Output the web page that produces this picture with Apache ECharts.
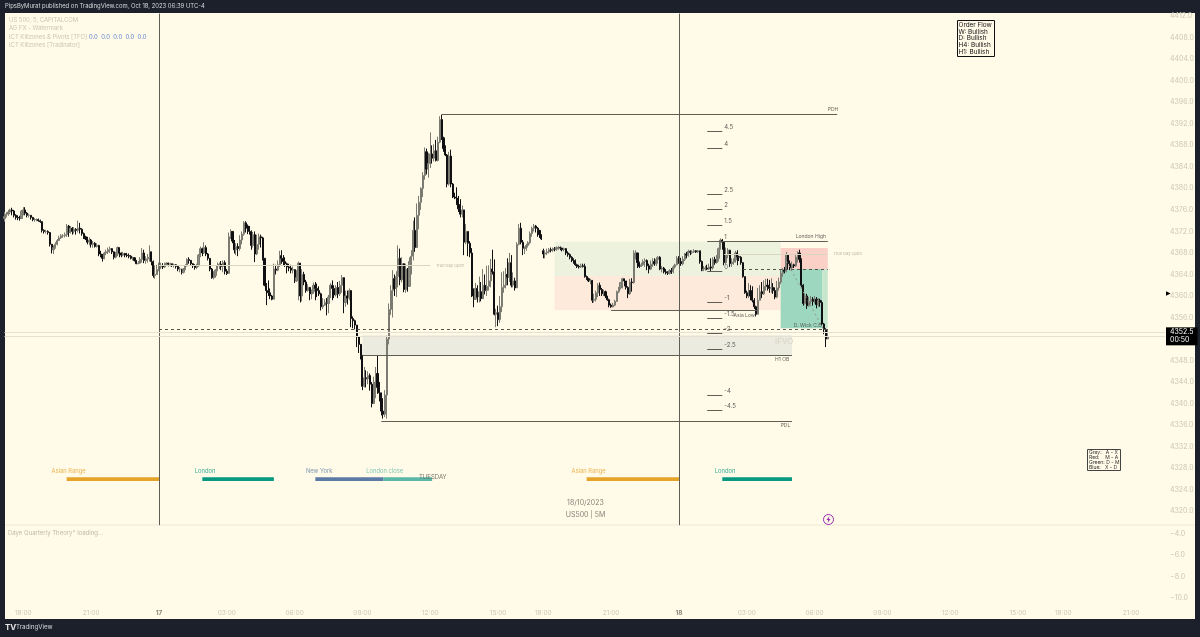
<!DOCTYPE html>
<html>
<head>
<meta charset="utf-8">
<title>US500 5M</title>
<script src="https://cdn.jsdelivr.net/npm/echarts@6/dist/echarts.min.js"></script>
<style>
html, body { margin: 0; padding: 0; background: #1c202b; }
#chart { width: 1200px; height: 637px; }
</style>
</head>
<body>
<div id="chart"></div>
<script>
// bars, one row per 5 minute bar: [close, low, high]
// open is the close of the bar before, a 4th value overrides it
var barsEve16 = [
[4374.8,4373.8,4375.6,4374.4],[4375.2,4374.6,4375.6],[4375.6,4374.9,4376],[4376,4375.2,4376.2],[4375.8,4375,4376.4],[4375,4374.6,4376],
[4374.6,4374.2,4375.2],[4374.5,4374.1,4375],[4374.4,4374,4374.9],[4375.8,4374.4,4376],[4376,4375,4376.5],[4375.4,4375,4376.5],
[4375,4374.6,4375.6],[4375,4374.6,4375.3],[4374.6,4374.2,4375],[4374.2,4373.9,4374.7],[4374.2,4373.8,4374.5],[4374.2,4373.9,4374.4],
[4374,4373.8,4374.4],[4373.8,4373.6,4374.2],[4372.2,4371.8,4373.9],[4372,4371.6,4372.4],[4372,4371.6,4372.3],[4371.8,4371.4,4372.2],
[4369.6,4369.2,4371.9],[4368.6,4367.9,4369.7],[4369,4367.8,4369.4],[4369.6,4368.8,4370],[4370.3,4369.4,4370.6],[4370.8,4370.2,4371.2],
[4371.2,4370.6,4371.5],[4371.2,4370.8,4371.5],[4371.4,4370.9,4371.8],[4373,4371,4373.4],[4371.8,4371,4373.2],[4372.6,4371.6,4373],
[4372,4371.4,4372.8],[4372.4,4371.6,4372.8],[4372.2,4371.4,4372.6],[4372.6,4371.8,4374],[4372.4,4371.6,4373.6],[4371.6,4371.2,4372.6],
[4371,4370.6,4371.8],[4370.6,4370.4,4371.2],[4370,4369.6,4371],[4370.4,4369.4,4370.9],[4369.6,4369,4370.6],[4369.8,4369,4370.2],
[4369.2,4369,4370],[4369.4,4369,4369.8],[4367.8,4367.4,4369.5],[4367.5,4367.2,4368.4],[4367,4366.4,4367.8],[4368,4366.8,4368.2],
[4368.2,4367.6,4368.6],[4368.6,4367.8,4369],[4368.8,4368,4369.2],[4368.2,4367.8,4368.9],[4367.2,4366.8,4368.3],[4367.8,4367,4368.2],
[4369,4367.4,4369.2],[4368,4367.2,4369],[4367.6,4367.2,4368.1],[4367.9,4367.4,4368.2],[4367.6,4367.2,4368],[4367.5,4367.2,4368],
[4367.4,4367,4367.9],[4367,4366.8,4367.6],[4367.1,4366.6,4367.3],[4366.6,4366.4,4367.2],[4366,4365.9,4366.7],[4366.1,4365.9,4366.5],
[4366.8,4366,4367.2],[4368,4366.2,4368.9],[4366.6,4366.1,4368.6],[4366.9,4366,4367.4],[4367.2,4366.2,4367.8],[4368.2,4366.4,4369.4],
[4366.4,4365.7,4367.6],[4363.8,4363.4,4366.6],[4364,4363.2,4365.7],[4364.9,4364.2,4365.8]
];
var barsMorning17 = [
[4365.4,4364.6,4366.2],[4365.6,4365,4366.2],[4365.4,4365,4366.1],[4366,4365.2,4366.2],[4366.1,4365.6,4366.3],[4365.9,4365.5,4366.2],
[4366,4365.5,4366.2],[4365.8,4365.4,4366],[4365.8,4365.3,4366],[4365.5,4365.1,4365.9],[4365,4364.6,4365.6],[4365,4364.4,4365.4],
[4364.4,4364,4365],[4364.9,4364.2,4365.2],[4365.6,4364.8,4365.9],[4366.8,4365.5,4367],[4366.6,4366,4367.2],[4366,4365.6,4366.7],
[4365.6,4365.2,4366.1],[4365.3,4364.9,4365.9],[4365.6,4365,4366],[4367.6,4365.4,4367.8],[4368.8,4367.2,4369.2],[4368,4367.4,4369],
[4369,4367.8,4370],[4367.8,4367.4,4369.4],[4367,4366.6,4368],[4365,4364.6,4367],[4363.4,4363.2,4365.2],[4363.8,4363.1,4364.6],
[4364.8,4363.4,4365],[4365.6,4364.6,4366.2],[4365.9,4365,4366.2],[4365.5,4364.8,4366.5],[4366.2,4364.4,4366.6],[4364.6,4364,4366.6],
[4364.2,4363.9,4365],[4371,4366.6,4371.8],[4372,4370.6,4372.4],[4370.2,4369.8,4372],[4368.6,4367.9,4370.4],[4369.2,4367.6,4369.8],
[4368.8,4367.4,4369.8],[4370.4,4368.4,4371.3],[4371.5,4369.6,4372],[4373.6,4371.2,4373.9],[4373,4371.8,4373.9],[4372.6,4371.5,4373.3],
[4372,4371.4,4373],[4369.4,4368.6,4372.2],[4371.4,4369,4371.9],[4367.8,4366.3,4372],[4369.6,4367.6,4371.4],[4371,4368.6,4371.6],
[4370.8,4369,4371.4],[4367,4366.6,4371],[4362,4361.8,4367],[4361,4358.3,4362.4],[4360.6,4360,4362.9],[4360,4359.4,4361.4],
[4359.4,4359.2,4360.2],[4365,4361.6,4366],[4364.8,4364,4365.8],[4365.8,4364.6,4366.6],[4367.5,4365.4,4368.4],[4367,4366,4368.5],
[4366.4,4365.6,4367.6],[4366,4365.4,4367.2],[4365.4,4364.2,4366.2],[4365.2,4364.6,4366],[4364.8,4364.2,4365.8],[4364.9,4364.2,4365.5],
[4362.8,4362.4,4364.9],[4363.4,4362.6,4364.8],[4366.1,4359.2,4366.4],[4360,4358.8,4365.2],[4364,4359,4365],[4362.6,4362,4364.5],
[4361,4360.6,4363],[4361.6,4360.8,4362.2],[4360.4,4359.2,4361.5],[4360.8,4359.4,4361.2],[4362,4360.4,4362.5],[4361.4,4359.2,4362.6],
[4361,4359.8,4362.3],[4360.4,4360,4361.8],[4358,4357.3,4360.6],[4358.3,4357.6,4359.6],[4358.8,4358.2,4359.4],[4358.6,4356.4,4359.6],
[4359.8,4356.8,4360.2],[4362,4359.6,4362.4],[4361.4,4359.2,4362.9],[4360.2,4359.6,4362],[4361.6,4359.9,4362],[4360.4,4359.6,4362.6],
[4362,4360,4362.8],[4363.4,4360.6,4363.9],[4358.8,4356.8,4361.4],[4360,4358,4361],[4359.6,4358.4,4361],[4361,4359.2,4361.4],
[4355.8,4354.2,4357.6],[4355.4,4354,4356.2],[4354.6,4353.8,4355.6],[4352.4,4350.5,4354.2],[4351,4349.4,4351.8],[4349,4348.2,4350.6]
];
var barsNewYork17 = [
[4343.2,4342.5,4348],[4344.8,4343,4346.8],[4344.6,4343,4346.2],[4345.2,4343.6,4346],[4343.6,4342.4,4345.6],[4340,4339.3,4344],
[4344,4341.6,4345],[4345.6,4341,4346.8],[4343,4341.8,4349],[4342,4340.4,4344],[4338.6,4337.8,4342],[4338,4337.2,4341],
[4341.6,4337.5,4342.5],[4352,4337.2,4352.6],[4357.5,4351,4358.6],[4361,4356.5,4362],[4363.2,4356,4364.8],[4361.4,4360,4364],
[4363.6,4359.8,4364.6],[4367,4361.6,4369.4],[4363,4362,4368.8],[4366,4362.5,4367.2],[4361.2,4360.7,4365.6],[4365,4360.6,4366],
[4361.8,4360.8,4365.2],[4366.4,4362,4367.2],[4367.4,4364,4368.5],[4372.2,4366.6,4374],[4369,4368.2,4374.6],[4375,4369.6,4377.2],
[4377.4,4372.4,4378.6],[4380,4376,4380.2],[4382.4,4378.4,4383],[4386.8,4381.6,4387.6],[4383.6,4382.6,4387.4],[4384.6,4382,4386.6],
[4386.4,4383.8,4390.4],[4385.6,4384.6,4388],[4387,4385,4388.2],[4385.2,4385,4389],[4388.6,4385,4389.6],[4392.8,4388.4,4393.4],
[4389.4,4389,4393.7],[4387.4,4386.8,4389.6],[4386.2,4386,4388],[4380.8,4380.2,4386.4],[4386,4380.5,4386.8],[4380.8,4380.2,4387.2],
[4378.4,4378.2,4381],[4378.2,4378,4379.2],[4377,4376.9,4380.2],[4376.2,4375.6,4378.6],[4375.2,4374.6,4378],[4376,4374.6,4376.8],
[4370,4367.6,4375.6],[4372,4369.6,4373.4],[4369.8,4367.4,4372],[4368,4367.2,4370.2],[4360,4359.8,4368.9],[4359.4,4357.9,4361.4],
[4361.4,4359.3,4362.4],[4359.8,4358.8,4362],[4360.8,4358.8,4363.6],[4359.5,4359,4362.6],[4362,4360,4365],[4361,4360.3,4364],
[4361.8,4360,4365.6],[4362.8,4361,4365.7],[4365,4361.6,4366.9],[4364.5,4364,4368.6],[4356.6,4356.4,4366.8],[4356.9,4354.2,4357.6],
[4355.6,4354.4,4358.2],[4358,4355,4360],[4361.6,4357,4364.4],[4362,4360.6,4364.6],[4364,4361.4,4365.2],[4363.5,4362,4367],
[4366.2,4362.6,4368],[4362,4361.6,4367.6],[4362.8,4361.6,4364.4],[4361.5,4361,4363.4],[4369.6,4363,4370],[4372.6,4369.4,4373.4],
[4370,4369.6,4373.6],[4368.8,4367.6,4370.4],[4368.9,4367.8,4369.2],[4369.4,4368.4,4369.7],[4369.9,4369,4370.2],[4371.6,4369.6,4372],
[4372.6,4371,4372.9],[4373,4372,4373.4],[4372.6,4371.8,4373.2],[4372.2,4371,4372.8],[4371.4,4370.8,4372],[4370.6,4370.4,4371.2]
];
var barsEve17 = [
[4367.8,4367,4368.8,4368.4],[4368,4367,4368.5],[4368.2,4367.6,4368.8],[4368.6,4367.9,4368.9],[4368.5,4368.1,4369],[4368.8,4368.2,4369],
[4368.7,4368.3,4369.1],[4369,4368.4,4369.2],[4369,4368.6,4369.3],[4368.9,4368.5,4369.2],[4368.6,4368.3,4369],[4368.8,4368.3,4369],
[4368,4367.6,4368.9],[4367.7,4367.3,4368.3],[4367.2,4366.8,4367.9],[4366.8,4366.3,4367.4],[4366.6,4366,4367],[4365.8,4365.6,4366.8],
[4365.5,4365.2,4366],[4365.4,4365.1,4365.8],[4365.6,4365.2,4366],[4365.5,4365.3,4366],[4363.6,4363.4,4366],[4363.2,4363,4363.8],
[4362.8,4362.6,4363.4],[4362.9,4362.2,4363.2],[4359.2,4358.7,4362.5],[4359.4,4358.8,4360.4],[4360.6,4359,4361],[4362,4359.8,4362.4],
[4361.2,4360,4362.5],[4360.4,4360,4361.5],[4360.8,4360,4361.2],[4360,4359.6,4361],[4359.3,4359.1,4360],[4358.3,4357.9,4359.5],
[4358,4357.8,4358.6],[4358.3,4357.9,4358.7],[4359,4358.1,4359.3],[4360.8,4358.9,4361],[4361.5,4360.5,4361.7],[4362.5,4361.2,4362.6],
[4363.2,4361.4,4363.4],[4362.8,4361.8,4363.2],[4361.6,4361.2,4362.8],[4360.4,4359.6,4361.8],[4362.6,4360.2,4363.2],[4362.5,4360.8,4363.3],
[4368,4362.3,4368.5],[4368,4366.8,4368.5],[4366.2,4365.2,4368],[4365.5,4365.2,4366.4],[4365.8,4365.4,4366.2],[4366.4,4365.6,4366.8],
[4366.6,4365.4,4367],[4365.6,4364.8,4366.8],[4365,4364.2,4366],[4365.9,4364.8,4366.6],[4366.4,4365.4,4367],[4366,4365.6,4367],
[4366.8,4365.6,4367.2],[4367.2,4366,4367.4],[4365,4364.8,4367.4],[4365.2,4364.4,4365.6],[4364.5,4364.2,4365.4],[4364.3,4364,4365],
[4364.2,4363.9,4364.6],[4364.7,4364,4365],[4364.5,4364.1,4365.2],[4365.4,4364.2,4365.7],[4365.8,4365.1,4366],[4367,4365.7,4367.4]
];
var barsMorning18 = [
[4366.4,4366,4367.4],[4366,4365.6,4367.1],[4366.8,4365.7,4367.4],[4367.8,4366.5,4368],[4367.6,4367,4368.2],[4368.3,4367.3,4368.6],
[4368.1,4367.6,4368.5],[4368.2,4367.8,4368.5],[4368.4,4368,4368.7],[4368.2,4368,4368.5],[4368.4,4368,4368.5],[4366.4,4366,4368.4],
[4364.8,4364.6,4366.6],[4365,4364.6,4365.6],[4365.2,4364.7,4365.6],[4365,4364.8,4365.8],[4365.4,4364.9,4366],[4365.2,4364.6,4367],
[4366.8,4364.9,4367.2],[4366.2,4365.8,4367.3],[4367,4366,4367.6],[4368.8,4366.4,4369],[4370.4,4368.6,4370.7],[4370,4368.6,4370.6],
[4366.2,4365.7,4370.2],[4367.6,4365.9,4369],[4368.5,4367,4368.9],[4366,4365.4,4368.6],[4366.3,4365.4,4367],[4366.7,4365.8,4367],
[4368,4366.2,4368.4],[4367.3,4365.7,4368.5],[4367.2,4366.5,4367.5],[4366.2,4365.8,4367.4],[4363.6,4363.4,4365.8],[4360.6,4360.4,4363.6],
[4360,4359.6,4361],[4361,4359.6,4362.4],[4360,4359.2,4362],[4359.2,4358.8,4361.8],[4358,4357.6,4359.6],[4356.6,4356.2,4358.2],
[4359.2,4356.6,4361.5],[4360.8,4359.2,4362],[4360.4,4359.6,4362.6],[4361.8,4360.2,4362.9],[4362,4361,4363.2],[4361.8,4361,4363.2],
[4361.4,4360.6,4363],[4361.6,4360.6,4363.3],[4361,4360.4,4362.4],[4359.8,4359.4,4361.6],[4361.5,4359.6,4362.8],[4362.6,4361,4363.4],
[4364.2,4362.2,4364.8],[4364.8,4363.6,4365.2],[4364.6,4364.2,4365.4],[4367.6,4364.4,4368.2],[4366,4365,4367.6],[4365.2,4364.8,4366.6],
[4365.8,4365,4366.4],[4365.6,4365.2,4366],[4367.2,4365.4,4367.6],[4368,4366.2,4368.3],[4366.8,4366.2,4368.6],[4362,4361.6,4367],
[4358.6,4358.2,4362.2],[4360,4358.4,4360.6],[4358.2,4357.6,4360.4],[4359,4358,4359.8],[4359.4,4358.4,4360],[4359,4358.2,4359.8],
[4359.4,4358.6,4360],[4358.4,4357.7,4359.8],[4359.2,4358,4359.6],[4358.8,4358,4359.5],[4354.8,4354.5,4359.2],[4353.8,4352.9,4355],
[4352,4350.5,4354],[4352.5,4352,4353.8]
];

// x axis
var barSlots = 617;
var tickBars = [10, 46, 82, 118, 154, 190, 226, 262, 286, 322, 358, 394, 430, 466, 502, 538, 562, 598];
var tickLabels = ['18:00', '21:00', '17', '03:00', '06:00', '09:00', '12:00', '15:00', '18:00', '21:00', '18', '03:00', '06:00', '09:00', '12:00', '15:00', '18:00', '21:00'];
var dayLabels = ['17', '18'];

// price levels: [from bar, to bar, price]
var solidLevels = [[232, 442, 4393.8], [200, 418, 4336.7], [190, 418, 4349], [322, 400, 4357.4], [373, 437, 4370.2]];
var fibBars = [373, 381];
var fibNames = ['4.5', '4', '2.5', '2', '1.5', '1', '0', '-1', '-1.5', '-2', '-2.5', '-4', '-4.5'];
var fibPrices = [4390.6, 4387.5, 4378.9, 4376.1, 4373.1, 4370.2, 4364.6, 4358.8, 4355.9, 4353.1, 4350.1, 4341.5, 4338.7];
var dashedLevels = [[82, 437, 4353.8], [392, 437, 4365]];
var faintLevels = [[82, 226, 4365.7], [382, 437, 4367.8]];
var dayBreaks = [82, 358];
var paneLow = 4317.4, paneHigh = 4412.5;
var lastPrice = 4352.5, prevMark = 4353.3;
var wickDiagonal = [[415, 4366.5], [436, 4353]];

// zones: [from bar, to bar, top price, bottom price]
var greenZone = [292, 412, 4370.1, 4363.7];
var redZone = [292, 412, 4363.7, 4357.4];
var ifvoZone = [190, 418, 4352.7, 4349];
var tradeRed = [412, 437, 4368.9, 4365];
var tradeTeal = [412, 434, 4365, 4354];
var tradeLight = [434, 437, 4365, 4354];

// sessions
var sessionNames = ['Asian Range', 'London', 'New York', 'London close', 'Asian Range', 'London'];
var sessionFrom = [33, 105, 165, 201, 309, 381];
var sessionTo = [82, 143, 201, 227, 358, 418];
var sessionNameBars = [25, 101, 160, 192, 301, 377];
var sessionColors = ['#e5a32a', '#089981', '#5b7aa5', '#5bb8a9', '#e5a32a', '#089981'];
var sessionBand = [4326.3, 4325.6], sessionNamePrice = 4327.4;

// notes next to the levels: [text, bar, price]
var levelNotes = [['PDH', 437, 4394.6], ['PDL', 412, 4336], ['H1 OB', 409, 4348.2], ['London High', 420, 4371], ['Asia Low', 387, 4356.4], ['D. Wick C.E.', 419, 4354.6]];
var faintNotes = [['True Day Open', 229, 4365.7], ['True Day Open', 440, 4367.8]];
var priceTicks = [4320, 4324, 4328, 4332, 4336, 4340, 4344, 4348, 4352, 4356, 4360, 4364, 4368, 4372, 4376, 4380, 4384, 4388, 4392, 4396, 4400, 4404, 4408, 4412];

var cream = '#fffbe8', dark = '#1c202b', axisGrey = '#c9c6b6', lineGrey = '#5e5e54';
var uiFont = 'Inter, Roboto, sans-serif';

var allBars = barsEve16.concat(barsMorning17, barsNewYork17, barsEve17, barsMorning18);
var candleData = [];
for (var i = 0; i < allBars.length; i++) {
	var r = allBars[i];
	var open = r[3] !== undefined ? r[3] : allBars[i - 1][0];
	candleData.push([open, r[0], r[1], r[2]]);
}
var categories = [];
for (var c = 0; c < barSlots; c++) categories.push(String(c));

function segment(bar0, bar1, price) {
	return [{ coord: [String(bar0), price] }, { coord: [String(bar1), price] }];
}
function zone(z, color) {
	return [{ coord: [String(z[0]), z[2]], itemStyle: { color: color } }, { coord: [String(z[1]), z[3]] }];
}
function note(n) {
	return { name: n[0], value: [String(n[1]), n[2]] };
}

var zoneData = [
	zone(greenZone, '#edf2df'), zone(redZone, '#fdeadb'), zone(ifvoZone, '#ecebdf'),
	zone(tradeRed, '#fbd0c6'), zone(tradeTeal, '#9dd7bf'), zone(tradeLight, '#c6e6cd')
];
sessionNames.forEach(function (s, k) {
	zoneData.push([
		{ coord: [String(sessionFrom[k]), sessionBand[0]], itemStyle: { color: sessionColors[k] } },
		{ coord: [String(sessionTo[k]), sessionBand[1]] }
	]);
});

var solidData = solidLevels.map(function (l) { return segment(l[0], l[1], l[2]); });
fibPrices.forEach(function (p) {
	if (p !== 4370.2) solidData.push(segment(fibBars[0], fibBars[1], p));
});
dayBreaks.forEach(function (b) {
	solidData.push([{ coord: [String(b), paneLow] }, { coord: [String(b), paneHigh] }]);
});

function noteSeries(name, rows, size, color) {
	return {
		name: name, type: 'scatter', xAxisIndex: 0, yAxisIndex: 0, symbolSize: 0, silent: true, z: 8,
		data: rows,
		label: {
			show: true, position: 'right', distance: 0, formatter: '{b}',
			fontSize: size, color: color, fontFamily: uiFont
		}
	};
}

var option = {
	animation: false,
	backgroundColor: dark,
	textStyle: { fontFamily: uiFont },
	grid: [
		{ left: 4.5, right: 35, top: 13, height: 519.7 },
		{ left: 4.5, right: 35, top: 534, height: 85.3 }
	],
	xAxis: [
		{ type: 'category', gridIndex: 0, data: categories, boundaryGap: false, show: false },
		{
			type: 'category', gridIndex: 1, data: categories, boundaryGap: false,
			axisLine: { show: false }, axisTick: { show: false }, splitLine: { show: false },
			axisLabel: {
				inside: true, margin: 3, fontSize: 6.5, color: axisGrey,
				interval: function (idx) { return tickBars.indexOf(idx) >= 0; },
				formatter: function (v, idx) {
					var t = tickLabels[tickBars.indexOf(idx)];
					return dayLabels.indexOf(t) >= 0 ? '{day|' + t + '}' : t;
				},
				rich: { day: { fontSize: 6.5, fontWeight: 'bold', color: '#8a887c' } }
			}
		}
	],
	yAxis: [
		{
			type: 'value', gridIndex: 0, position: 'right', min: 4316, max: 4412.6, scale: true,
			axisLine: { show: false }, axisTick: { show: false }, splitLine: { show: false },
			axisLabel: {
				margin: 5, fontSize: 7, color: axisGrey, customValues: priceTicks,
				formatter: function (v) { return v.toFixed(1); }
			}
		},
		{
			type: 'value', gridIndex: 1, position: 'right', min: -12, max: -4, interval: 2,
			axisLine: { show: false }, axisTick: { show: false }, splitLine: { show: false },
			axisLabel: {
				margin: 5, fontSize: 7, color: axisGrey,
				formatter: function (v) { return v === -12 ? '' : '\u2212' + Math.abs(v).toFixed(1); }
			}
		}
	],
	series: [
		{
			name: 'US500', type: 'candlestick', xAxisIndex: 0, yAxisIndex: 0, z: 3,
			data: candleData, barWidth: 1.6, silent: true,
			itemStyle: { color: '#8d8c82', color0: '#101012', borderColor: '#7c7b72', borderColor0: '#101012', borderWidth: 1 },
			markArea: { silent: true, z: 1, data: zoneData }
		},
		{
			name: 'levels', type: 'line', xAxisIndex: 0, yAxisIndex: 0, data: [], silent: true, z: 5,
			markLine: {
				silent: true, symbol: 'none', label: { show: false },
				lineStyle: { color: lineGrey, width: 1, type: 'solid' },
				data: solidData
			}
		},
		{
			name: 'dashed', type: 'line', xAxisIndex: 0, yAxisIndex: 0, data: [], silent: true, z: 5,
			markLine: {
				silent: true, symbol: 'none', label: { show: false },
				lineStyle: { color: '#55554c', width: 1, type: [3, 3] },
				data: dashedLevels.map(function (l) { return segment(l[0], l[1], l[2]); })
			}
		},
		{
			name: 'diagonal', type: 'line', xAxisIndex: 0, yAxisIndex: 0, data: [], silent: true, z: 5,
			markLine: {
				silent: true, symbol: 'none', label: { show: false },
				lineStyle: { color: '#8e9a8c', width: 1, type: [2, 3] },
				data: [[
					{ coord: [String(wickDiagonal[0][0]), wickDiagonal[0][1]] },
					{ coord: [String(wickDiagonal[1][0]), wickDiagonal[1][1]] }
				]]
			}
		},
		{
			name: 'faint', type: 'line', xAxisIndex: 0, yAxisIndex: 0, data: [], silent: true, z: 2,
			markLine: {
				silent: true, symbol: 'none', label: { show: false },
				lineStyle: { color: '#d9d6c0', width: 1, type: 'solid' },
				data: faintLevels.map(function (l) { return segment(l[0], l[1], l[2]); })
			}
		},
		{
			name: 'last', type: 'line', xAxisIndex: 0, yAxisIndex: 0, data: [], silent: true, z: 6,
			markLine: {
				silent: true, symbol: 'none',
				lineStyle: { color: '#e6e0d0', width: 1, type: 'solid' },
				label: { show: false },
				data: [
					{ yAxis: prevMark },
					{
						yAxis: lastPrice,
						label: {
							show: true, position: 'end', distance: 1, formatter: lastPrice.toFixed(1) + '\n00:50',
							backgroundColor: '#000', color: '#fff', fontSize: 7, lineHeight: 8,
							padding: [1, 4, 1, 4], fontFamily: uiFont
						}
					}
				]
			}
		},
		noteSeries('fib', fibNames.map(function (n, k) { return { name: n, value: ['382', fibPrices[k] + 0.75] }; }), 6, '#333'),
		noteSeries('notes', levelNotes.map(note), 5, '#3d3d38'),
		noteSeries('faint notes', faintNotes.map(note), 4, '#a9a795'),
		noteSeries('ifvo', [note(['IFVO', 409, 4351.6])], 8, '#cfcdc0'),
		noteSeries('tuesday', [note(['TUESDAY', 220, 4326.3])], 6, '#55554c'),
		{
			name: 'session names', type: 'scatter', xAxisIndex: 0, yAxisIndex: 0, symbolSize: 0, silent: true, z: 8,
			data: sessionNames.map(function (s, k) {
				return {
					name: s, value: [String(sessionNameBars[k]), sessionNamePrice],
					label: { color: sessionColors[k] }
				};
			}),
			label: { show: true, position: 'right', distance: 0, formatter: '{b}', fontSize: 5.8, fontFamily: uiFont }
		}
	],
	graphic: [
		{ type: 'rect', z: -5, shape: { x: 5, y: 13, width: 1190, height: 606 }, style: { fill: cream } },
		{ type: 'line', z: -4, shape: { x1: 5, y1: 525, x2: 1195, y2: 525 }, style: { stroke: '#ece8d6', lineWidth: 1 } },
		{ type: 'text', x: 5, y: 3, z: 20, style: { text: 'PipsByMurat published on TradingView.com, Oct 18, 2023 06:39 UTC-4', fill: '#d6d8dc', font: '5.9px ' + uiFont } },
		{ type: 'text', x: 9, y: 17, z: 20, style: { text: 'US 500, 5, CAPITALCOM', fill: axisGrey, font: '5.9px ' + uiFont } },
		{ type: 'text', x: 9, y: 25.5, z: 20, style: { text: 'AG FX - Watermark', fill: axisGrey, font: '5.9px ' + uiFont } },
		{ type: 'text', x: 9, y: 34, z: 20, style: { text: 'ICT Killzones & Pivots [TFO]', fill: axisGrey, font: '5.9px ' + uiFont } },
		{ type: 'text', x: 89, y: 34, z: 20, style: { text: '0.0  0.0  0.0  0.0  0.0', fill: '#5b7fd0', font: '5.9px ' + uiFont } },
		{ type: 'text', x: 9, y: 42, z: 20, style: { text: 'ICT Killzones [Tradinator]', fill: axisGrey, font: '5.9px ' + uiFont } },
		{ type: 'text', x: 8, y: 530.5, z: 20, style: { text: 'Daye Quarterly Theory* loading...', fill: '#bdbaa9', font: '6px ' + uiFont } },
		{ type: 'text', x: 585.5, y: 499.5, z: 20, style: { text: '18/10/2023', fill: '#85837a', font: '7px ' + uiFont, align: 'center' } },
		{ type: 'text', x: 585.5, y: 511.5, z: 20, style: { text: 'US500 | 5M', fill: '#85837a', font: '7px ' + uiFont, align: 'center' } },
		{ type: 'text', x: 1166, y: 290, z: 20, style: { text: '\u25B6', fill: '#000', font: '6px "DejaVu Sans"' } },
		{ type: 'rect', z: 20, shape: { x: 957.5, y: 20.5, width: 37, height: 36 }, style: { fill: cream, stroke: '#111', lineWidth: 1 } },
		{ type: 'text', x: 958.5, y: 21.5, z: 21, style: { text: 'Order Flow\nW: Bullish\nD: Bullish\nH4: Bullish\nH1: Bullish', fill: '#111', font: '6.4px ' + uiFont, lineHeight: 6.8 } },
		{ type: 'rect', z: 20, shape: { x: 1087.5, y: 449.5, width: 33, height: 21 }, style: { fill: cream, stroke: '#444', lineWidth: 1 } },
		{ type: 'text', x: 1089, y: 450, z: 21, style: { text: 'Gray:   A - X\nRed:    M - A\nGreen: D - M\nBlue:   X - D', fill: '#333', font: '5px ' + uiFont, lineHeight: 5 } },
		{ type: 'circle', z: 20, shape: { cx: 828.5, cy: 519.5, r: 5 }, style: { fill: 'none', stroke: '#9c27b0', lineWidth: 1 } },
		{ type: 'polygon', z: 20, shape: { points: [[829.5, 516], [826.5, 520], [828.3, 520], [827.5, 523], [830.5, 519], [828.7, 519]] }, style: { fill: '#9c27b0' } },
		{ type: 'text', x: 5, y: 624, z: 20, style: { text: 'TV', fill: '#e8e8e8', font: 'bold 8px ' + uiFont } },
		{ type: 'text', x: 16, y: 624.5, z: 20, style: { text: 'TradingView', fill: '#d6d8dc', font: '6.2px ' + uiFont } }
	]
};

var myChart = echarts.init(document.getElementById('chart'));
myChart.setOption(option);
</script>
</body>
</html>
